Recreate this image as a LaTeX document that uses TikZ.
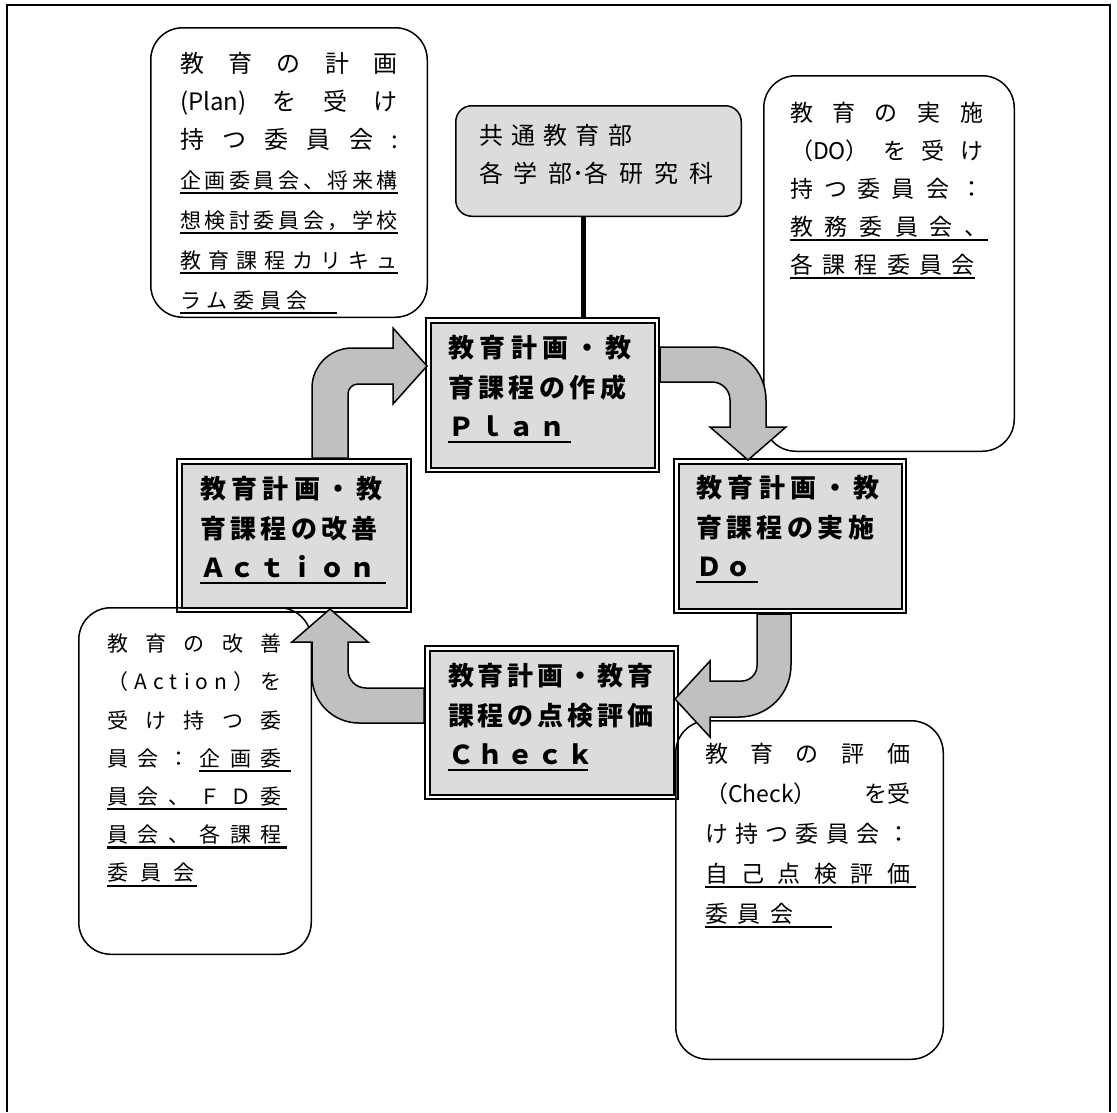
\documentclass[tikz,border=0pt]{standalone}
\usepackage{fontspec}
\usepackage{xcolor}
\usepackage{tikz}
\newfontfamily\jpfont{Noto Sans CJK JP}
\definecolor{boxgray}{HTML}{DCDCDC}
\definecolor{arrowgray}{HTML}{C0C0C0}
\newcommand{\ulwide}[2]{\leavevmode\rlap{\rule[-6pt]{#1}{2.2pt}}#2}
\newcommand{\boxtext}[3]{\parbox[c][#1][t]{#2}{#3}}

\begin{document}
\begin{tikzpicture}[x=1pt, y=-1pt,
    stage/.style={draw, line width=2pt, double=white, double distance=2.5pt, fill=boxgray, inner sep=0pt, font=\jpfont\bfseries\fontsize{26}{39.5}\selectfont},
    note/.style={draw, line width=1.5pt, rounded corners=32pt, inner sep=0pt, font=\jpfont},
    blockarrow/.style={draw, line width=1.5pt, fill=arrowgray, line join=miter}]
    \useasboundingbox (0,0) rectangle (1117,1112);
    \draw[line width=2pt] (7,1112) -- (7,5) -- (1110,5) -- (1110,1112);

    % the four stages
    \node[stage, minimum width=228.5pt, minimum height=149.5pt] (plan) at (542.5,395) {\boxtext{119pt}{189pt}{\makebox[184pt][s]{教 育 計 画 ・ 教}\\ \makebox[178pt][s]{育 課 程 の 作 成}\\ \ulwide{123pt}{\makebox[117pt][s]{Ｐ ｌ ａ ｎ}}}};
    \node[stage, minimum width=227.5pt, minimum height=149.5pt] (do) at (790,536) {\boxtext{121pt}{188pt}{\makebox[184pt][s]{教 育 計 画 ・ 教}\\ \makebox[178pt][s]{育 課 程 の 実 施}\\ \ulwide{62pt}{\makebox[56pt][s]{Ｄ ｏ}}}};
    \node[stage, minimum width=248.5pt, minimum height=148.5pt] (check) at (551.5,722.5) {\boxtext{118pt}{207pt}{\makebox[204pt][s]{教 育 計 画 ・ 教 育}\\ \makebox[190pt][s]{課 程 の 点 検 評 価}\\ \ulwide{140pt}{\makebox[132pt][s]{Ｃ ｈ ｅ ｃ ｋ}}}};
    \node[stage, minimum width=229.5pt, minimum height=148.5pt] (action) at (294,535.5) {\boxtext{118pt}{188pt}{\makebox[183pt][s]{教 育 計 画 ・ 教}\\ \makebox[178pt][s]{育 課 程 の 改 善}\\ \ulwide{186pt}{\makebox[176pt][s]{Ａ ｃ ｔ ｉ ｏ ｎ}}}};

    % faculties
    \node[draw, line width=1.5pt, rounded corners=16pt, fill=boxgray, inner sep=0pt, minimum width=285.5pt, minimum height=110.5pt, font=\jpfont] (dept) at (598.5,161) {\boxtext{73pt}{239pt}{\fontsize{24}{38}\selectfont \makebox[153pt][s]{共 通 教 育 部}\\ \makebox[234pt][s]{各 学 部･各 研 究 科}}};
    \draw[line width=5pt] ([xshift=-15.5pt]dept.south) -- ([xshift=-15.5pt]dept.south |- plan.north);

    % committees
    \node[note, minimum width=276.5pt, minimum height=289.5pt] (plannote) at (289,172.5) {\boxtext{241pt}{218pt}{\fontsize{24}{38}\selectfont
        \makebox[218pt][s]{教 育 の 計 画}\\
        \makebox[218pt][s]{(Plan) を 受 け}\\
        \makebox[218pt][s]{持 つ 委 員 会 :}\par
        \fontsize{21}{40}\selectfont
        \ulwide{218pt}{\makebox[218pt][s]{企 画 委 員 会 、 将 来 構}}\\
        \ulwide{218pt}{\makebox[218pt][s]{想 検 討 委 員 会 ， 学 校}}\\
        \ulwide{218pt}{\makebox[218pt][s]{教 育 課 程 カ リ キ ュ}}\\
        \ulwide{157pt}{\makebox[128pt][s]{ラ ム 委 員 会}}}};
    \node[note, minimum width=250.5pt, minimum height=375.5pt] (donote) at (889,263.5) {\boxtext{323pt}{198pt}{\fontsize{23}{38}\selectfont
        \makebox[193pt][s]{教 育 の 実 施}\\
        \makebox[193pt][s]{（DO） を 受 け}\\
        \makebox[193pt][s]{持 つ 委 員 会 ：}\\
        \ulwide{198pt}{\makebox[198pt][s]{教 務 委 員 会 、}}\\
        \ulwide{185pt}{\makebox[185pt][s]{各 課 程 委 員 会}}}};
    \node[note, minimum width=267.5pt, minimum height=338.5pt] (checknote) at (809.5,890) {\boxtext{294pt}{209pt}{\fontsize{23}{40}\selectfont
        \makebox[205pt][s]{教 育 の 評 価}\\
        \makebox[205pt][s]{（Check） を受}\\
        \makebox[205pt][s]{け 持 つ 委 員 会 ：}\\
        \ulwide{211pt}{\makebox[205pt][s]{自 己 点 検 評 価}}\\
        \ulwide{127pt}{\makebox[88pt][s]{委 員 会}}}};
    \node[note, minimum width=232.5pt, minimum height=346.5pt] (actionnote) at (195,781) {\boxtext{294pt}{176pt}{\fontsize{21}{38.2}\selectfont
        \makebox[175pt][s]{教 育 の 改 善}\\
        \makebox[175pt][s]{（ A c t i o n ） を}\\
        \makebox[175pt][s]{受 け 持 つ 委}\\
        \makebox[175pt][s]{員 会 ： \ulwide{92pt}{企} 画 委}\\
        \ulwide{180pt}{\makebox[175pt][s]{員 会 、 Ｆ Ｄ 委}}\\
        \ulwide{180pt}{\makebox[175pt][s]{員 会 、 各 課 程}}\\
        \ulwide{90pt}{\makebox[88pt][s]{委 員 会}}}};

    % cycle arrows
    \draw[blockarrow] (312,458) -- (312,388) .. controls (312,366) and (330,348) .. (352,348) -- (393,348) -- (393,328) -- (427,366) -- (393,404) -- (393,384) -- (358,384) .. controls (352.5,384) and (348,388.5) .. (348,394) -- (348,458) -- cycle;
    \draw[blockarrow] (660,347) -- (713,347) .. controls (742,347) and (766,371) .. (766,400) -- (766,427) -- (786,427) -- (748,460) -- (710,427) -- (730,427) -- (730,400) .. controls (730,390) and (722,382) .. (712,382) -- (660,382) -- cycle;
    \draw[blockarrow] (757,614) -- (791,614) -- (791,665) .. controls (791,694) and (768,717) .. (739,717) -- (710,717) -- (710,737) -- (675,699) -- (710,661) -- (710,681) -- (742,681) .. controls (750,681) and (757,674) .. (757,666) -- cycle;
    \draw[blockarrow] (424,688) -- (366,688) .. controls (356,688) and (348,680) .. (348,670) -- (348,642) -- (368,642) -- (330,609) -- (292,642) -- (312,642) -- (312,676) .. controls (312,702) and (333,723) .. (359,723) -- (424,723) -- cycle;
\end{tikzpicture}
\end{document}
